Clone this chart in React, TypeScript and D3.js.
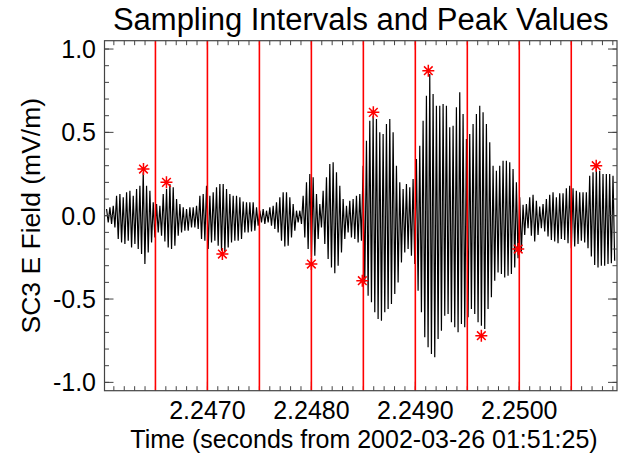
import React from "react";
import * as d3 from "d3";

// ---- data ----
const cycleStart = 2.24603; // time of first oscillation maximum (s)
const cyclePeriod = 3.205e-5; // oscillation period (s)

// successive oscillation maxima (mV/m)
const upperPeaks = [
  0.04, 0.05, 0.06, 0.12, 0.13, 0.11, 0.14, 0.15, 0.12, 0.16, 0.18, 0.26, 0.18, 0.15, 0.08,
  0.07, 0.06, 0.13, 0.16, 0.19, 0.17, 0.1, 0.07, 0.05, 0.04, 0.05, 0.05, 0.06, 0.12, 0.13, 0.18,
  0.12, 0.14, 0.17, 0.19, 0.19, 0.16, 0.13, 0.12, 0.12, 0.11, 0.085, 0.08, 0.08, 0.08, 0.05, 0.03,
  0.04, 0.03, 0.05, 0.06, 0.08, 0.11, 0.14, 0.14, 0.11, 0.07, 0.03, 0.03, 0.12, 0.2, 0.25,
  0.23, 0.13, 0.07, 0.15, 0.23, 0.31, 0.32, 0.26, 0.18, 0.1, 0.06, 0.09, 0.1, 0.12, 0.13,
  0.3, 0.45, 0.57, 0.6, 0.58, 0.5, 0.49, 0.55, 0.58, 0.5, 0.3, 0.2, 0.16, 0.19, 0.17,
  0.22, 0.34, 0.42, 0.57, 0.72, 0.85, 0.73, 0.66, 0.66, 0.67, 0.66, 0.53, 0.54, 0.65, 0.74,
  0.61, 0.46, 0.49, 0.55, 0.61, 0.66, 0.62, 0.55, 0.44, 0.3, 0.27, 0.3, 0.33, 0.33, 0.32,
  0.28, 0.2, 0.11, 0.065, 0.07, 0.11, 0.125, 0.09, 0.055, 0.07, 0.1, 0.125, 0.14, 0.11, 0.135,
  0.135, 0.165, 0.18, 0.165, 0.15, 0.14, 0.14, 0.14, 0.24, 0.26, 0.29, 0.27, 0.25, 0.25, 0.25, 0.24,
];

// successive oscillation minima (mV/m)
const lowerPeaks = [
  -0.04, -0.05, -0.07, -0.14, -0.16, -0.17, -0.15, -0.19, -0.17, -0.2, -0.23, -0.29, -0.22, -0.16, -0.13,
  -0.1, -0.12, -0.155, -0.19, -0.2, -0.18, -0.12, -0.1, -0.09, -0.09, -0.07, -0.07, -0.08, -0.14, -0.15, -0.2,
  -0.16, -0.15, -0.18, -0.21, -0.22, -0.19, -0.16, -0.15, -0.15, -0.14, -0.1, -0.1, -0.095, -0.09, -0.06, -0.04,
  -0.05, -0.04, -0.06, -0.08, -0.1, -0.15, -0.185, -0.18, -0.13, -0.09, -0.04, -0.05, -0.13, -0.2, -0.25,
  -0.24, -0.14, -0.07, -0.17, -0.26, -0.31, -0.345, -0.3, -0.22, -0.14, -0.1, -0.13, -0.14, -0.16, -0.15,
  -0.4, -0.48, -0.52, -0.58, -0.62, -0.63, -0.58, -0.56, -0.53, -0.47, -0.4, -0.28, -0.22, -0.2, -0.24,
  -0.29, -0.45, -0.58, -0.73, -0.79, -0.83, -0.85, -0.74, -0.69, -0.6, -0.59, -0.64, -0.67, -0.7, -0.65,
  -0.67, -0.61, -0.56, -0.59, -0.64, -0.66, -0.68, -0.56, -0.49, -0.39, -0.34, -0.35, -0.37, -0.36, -0.35,
  -0.31, -0.255, -0.215, -0.115, -0.075, -0.12, -0.155, -0.115, -0.075, -0.095, -0.125, -0.145, -0.155, -0.165, -0.14,
  -0.145, -0.165, -0.195, -0.185, -0.17, -0.15, -0.16, -0.195, -0.245, -0.295, -0.31, -0.3, -0.3, -0.29, -0.285, -0.27,
];

// sampling interval boundaries (s)
const intervalTimes = [2.2465, 2.247, 2.2475, 2.248, 2.2485, 2.249, 2.2495, 2.25, 2.2505];

// peak values per interval
const peakTimes = [2.246385, 2.246606, 2.247144, 2.248, 2.24849, 2.248596, 2.249125, 2.249635, 2.24999, 2.25074];
const peakValues = [0.28, 0.2, -0.23, -0.29, -0.39, 0.62, 0.87, -0.72, -0.2, 0.3];

const xMajorTicks = [2.247, 2.248, 2.249, 2.25];
const xTickLabels = ["2.2470", "2.2480", "2.2490", "2.2500"];
const yMajorTicks = [-1.0, -0.5, 0.0, 0.5, 1.0];
const yTickLabels = ["-1.0", "-0.5", "0.0", "0.5", "1.0"];

const xDomain = [2.24601, 2.25094];
const yDomain = [-1.05, 1.05];

const title = "Sampling Intervals and Peak Values";
const xTitle = "Time (seconds from 2002-03-26 01:51:25)";
const yTitle = "SC3 E Field (mV/m)";

// ---- layout ----
const W = 627;
const H = 455;
const L = 104.5;
const R = 617;
const T = 40.7;
const B = 390.7;
const FONT = "'Liberation Sans', Arial, Helvetica, sans-serif";

export default function App() {
  const x = d3.scaleLinear().domain(xDomain).range([L, R]);
  const y = d3.scaleLinear().domain(yDomain).range([B, T]);

  const pts: [number, number][] = [];
  upperPeaks.forEach((u, i) => {
    const t = cycleStart + i * cyclePeriod;
    pts.push([t, u]);
    pts.push([t + cyclePeriod / 2, lowerPeaks[i]]);
  });
  const line = d3
    .line<[number, number]>()
    .x((d) => x(d[0]))
    .y((d) => y(d[1]));

  // minor ticks
  const xMinor: number[] = [];
  for (let k = 24602; k <= 25094; k++) {
    const v = 2 + k / 100000;
    if (k % 10 === 0) xMinor.push(v);
  }
  const yMinor = d3.range(-10, 11).map((k) => k / 10);

  const majorLen = 9;
  const minorLen = 4.5;
  const axisColor = "#444";

  const s = 6;
  const ast = (cx: number, cy: number) =>
    `M${cx - s},${cy}L${cx + s},${cy}M${cx},${cy - s}L${cx},${cy + s}` +
    `M${cx - s * 0.72},${cy - s * 0.72}L${cx + s * 0.72},${cy + s * 0.72}` +
    `M${cx - s * 0.72},${cy + s * 0.72}L${cx + s * 0.72},${cy - s * 0.72}`;

  return (
    <svg
      width={W}
      height={H}
      style={{ position: "absolute", left: 0, top: 0, background: "#fff" }}
      fontFamily={FONT}
    >
      <rect x={0} y={0} width={W} height={H} fill="#fff" />
      {/* waveform */}
      <path d={line(pts) || ""} fill="none" stroke="#000" strokeWidth={1.2} strokeLinejoin="miter" />

      {/* ticks */}
      <g stroke={axisColor} strokeWidth={1}>
        {xMinor.map((v, i) => (
          <g key={"xm" + i}>
            <line x1={x(v)} x2={x(v)} y1={B} y2={B - minorLen} />
            <line x1={x(v)} x2={x(v)} y1={T} y2={T + minorLen} />
          </g>
        ))}
        {xMajorTicks.map((v, i) => (
          <g key={"xM" + i}>
            <line x1={x(v)} x2={x(v)} y1={B} y2={B - majorLen} />
            <line x1={x(v)} x2={x(v)} y1={T} y2={T + majorLen} />
          </g>
        ))}
        {yMinor.map((v, i) => (
          <g key={"ym" + i}>
            <line x1={L} x2={L + minorLen} y1={y(v)} y2={y(v)} />
            <line x1={R} x2={R - minorLen} y1={y(v)} y2={y(v)} />
          </g>
        ))}
        {yMajorTicks.map((v, i) => (
          <g key={"yM" + i}>
            <line x1={L} x2={L + majorLen} y1={y(v)} y2={y(v)} />
            <line x1={R} x2={R - majorLen} y1={y(v)} y2={y(v)} />
          </g>
        ))}
      </g>

      {/* interval lines */}
      {intervalTimes.map((t, i) => (
        <line key={"iv" + i} x1={x(t)} x2={x(t)} y1={T} y2={B} stroke="#ff0000" strokeWidth={1.6} />
      ))}

      {/* peak markers */}
      {peakTimes.map((t, i) => (
        <path key={"pk" + i} d={ast(x(t), y(peakValues[i]))} stroke="#ff0000" strokeWidth={1.5} fill="none" />
      ))}

      {/* frame */}
      <rect x={L} y={T} width={R - L} height={B - T} fill="none" stroke={axisColor} strokeWidth={1.2} />

      {/* tick labels */}
      {xMajorTicks.map((v, i) => (
        <text key={"xl" + i} x={x(v)} y={419} textAnchor="middle" fontSize={25} fill="#000">
          {xTickLabels[i]}
        </text>
      ))}
      {yMajorTicks.map((v, i) => (
        <text key={"yl" + i} x={96} y={y(v) + 9} textAnchor="end" fontSize={25} fill="#000">
          {yTickLabels[i]}
        </text>
      ))}

      {/* titles */}
      <text x={(L + R) / 2} y={30} textAnchor="middle" fontSize={31} fill="#000">
        {title}
      </text>
      <text x={364} y={448} textAnchor="middle" fontSize={25} fill="#000">
        {xTitle}
      </text>
      <text
        transform={`translate(40, ${(T + B) / 2}) rotate(-90)`}
        textAnchor="middle"
        fontSize={26.5}
        fill="#000"
      >
        {yTitle}
      </text>
    </svg>
  );
}
